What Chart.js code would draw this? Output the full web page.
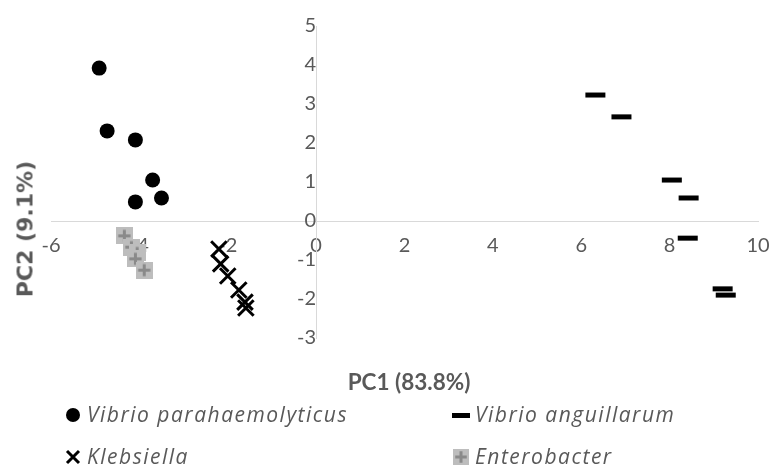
<!DOCTYPE html>
<html>
<head>
<meta charset="utf-8">
<script src="https://cdn.jsdelivr.net/npm/chart.js@4.4.0/dist/chart.umd.min.js"></script>
<style>
  body { margin: 0; background: #fff; }
  #wrap { position: relative; width: 771px; height: 468px; overflow: hidden; font-family: Lato, "Open Sans", sans-serif; color: #595959; }
  #chart { position: absolute; left: 0; top: 0; }
  .title { position: absolute; font-weight: bold; white-space: nowrap; }
  #xTitle { left: 409px; top: 381px; font-size: 22.5px; transform: translate(-50%, -50%); }
  #yTitle { left: 25px; top: 229px; font-family: "DejaVu Sans", sans-serif; font-size: 22px; transform: translate(-50%, -50%) rotate(-90deg); }
  .item { position: absolute; font-family: "Open Sans", sans-serif; font-style: italic; font-size: 21px; letter-spacing: 1.5px; white-space: nowrap; line-height: 1; }
  .item canvas { position: absolute; left: -24px; top: 50%; transform: translateY(-50%); }
</style>
</head>
<body>
<div id="wrap">
  <canvas id="chart" width="771" height="468"></canvas>
  <div id="xTitle" class="title">PC1 (83.8%)</div>
  <div id="yTitle" class="title">PC2 (9.1%)</div>
  <div id="legend"></div>
</div>
<script>
// series names
var seriesNames = ["Vibrio parahaemolyticus", "Vibrio anguillarum", "Klebsiella", "Enterobacter"];

// PC1 / PC2 scores
var vparaX = [-4.91, -4.73, -4.09, -3.70, -3.50, -4.09];
var vparaY = [3.92, 2.31, 2.08, 1.05, 0.59, 0.49];

var vangX = [6.32, 6.91, 8.05, 8.43, 8.41, 9.20, 9.27];
var vangY = [3.23, 2.67, 1.05, 0.59, -0.44, -1.74, -1.90];

var klebX = [-2.20, -2.16, -2.00, -1.75, -1.61, -1.59];
var klebY = [-0.72, -1.10, -1.41, -1.77, -2.08, -2.23];

var enteroX = [-4.34, -4.18, -4.05, -4.09, -3.89];
var enteroY = [-0.38, -0.67, -0.82, -0.97, -1.26];

// axis ranges
var xMin = -6, xMax = 10, xStep = 2;
var yMin = -3, yMax = 5, yStep = 1;

function pts(xs, ys)
{
    var out = [];
    for (var i = 0; i < xs.length; i++) out.push({x: xs[i], y: ys[i]});
    return out;
}

// grey square with a darker plus, used for Enterobacter
function plusBox(size)
{
    var c = document.createElement("canvas");
    c.width = size; c.height = size;
    var g = c.getContext("2d");
    g.fillStyle = "#bdbdbd";
    g.fillRect(0, 0, size, size);
    g.strokeStyle = "#8a8a8a";
    g.lineWidth = 3;
    var m = size / 2, r = size * 0.36;
    g.beginPath();
    g.moveTo(m - r, m); g.lineTo(m + r, m);
    g.moveTo(m, m - r); g.lineTo(m, m + r);
    g.stroke();
    return c;
}

var enteroPoint = plusBox(17);

var tickFont = {family: "Lato", size: 20};

// axes cross at 0, so they should take no room of their own
function noRoom(s)
{
    if (s.isHorizontal()) s.height = 0; else s.width = 0;
    s.paddingTop = 0; s.paddingBottom = 0;
    s.paddingLeft = 0; s.paddingRight = 0;
}

var ctx = document.getElementById("chart").getContext("2d");
var chart = new Chart(ctx, {
    type: 'scatter',
    data: {
        datasets: [{
            label: seriesNames[0],
            data: pts(vparaX, vparaY),
            pointStyle: 'circle',
            pointRadius: 7.5,
            backgroundColor: "#000",
            borderColor: "#000",
            borderWidth: 0
        }, {
            label: seriesNames[1],
            data: pts(vangX, vangY),
            pointStyle: 'line',
            pointRadius: 10,
            borderColor: "#000",
            backgroundColor: "#000",
            borderWidth: 5
        }, {
            label: seriesNames[2],
            data: pts(klebX, klebY),
            pointStyle: 'crossRot',
            pointRadius: 11,
            borderColor: "#000",
            backgroundColor: "#000",
            borderWidth: 3
        }, {
            label: seriesNames[3],
            data: pts(enteroX, enteroY),
            pointStyle: enteroPoint,
            pointRadius: 8,
            borderColor: "#8a8a8a",
            backgroundColor: "#bdbdbd"
        }]
    },
    options: {
        responsive: false,
        animation: false,
        layout: {
            autoPadding: false,
            padding: {left: 51, top: 26, right: 13, bottom: 130}
        },
        plugins: {
            legend: { display: false },
            tooltip: { enabled: false }
        },
        scales: {
            x: {
                type: 'linear',
                min: xMin, max: xMax,
                position: {y: 0},
                afterFit: noRoom,
                grid: { display: false },
                border: { display: true, color: "#d9d9d9", width: 1 },
                ticks: { stepSize: xStep, color: "#595959", padding: 5, font: tickFont }
            },
            y: {
                type: 'linear',
                min: yMin, max: yMax,
                position: {x: 0},
                afterFit: noRoom,
                grid: { display: false },
                border: { display: true, color: "#d9d9d9", width: 1 },
                ticks: { stepSize: yStep, color: "#595959", padding: 22, font: tickFont }
            }
        }
    }
});

// legend, two columns
var legendPos = [[87, 415], [475, 415], [87, 457], [475, 457]];
var legend = document.getElementById("legend");
for (var i = 0; i < seriesNames.length; i++)
{
    var div = document.createElement("div");
    div.className = "item";
    div.style.left = legendPos[i][0] + "px";
    div.style.top = (legendPos[i][1] - 11) + "px";
    var mk = document.createElement("canvas");
    mk.width = 20; mk.height = 20;
    var g = mk.getContext("2d");
    g.fillStyle = "#000"; g.strokeStyle = "#000";
    if (i == 0) { g.beginPath(); g.arc(10, 10, 7, 0, Math.PI * 2); g.fill(); }
    if (i == 1) { g.fillRect(1, 8, 18, 5); }
    if (i == 2) { g.lineWidth = 3; g.beginPath(); g.moveTo(4, 4); g.lineTo(16, 16); g.moveTo(16, 4); g.lineTo(4, 16); g.stroke(); }
    if (i == 3) { g.drawImage(plusBox(16), 2, 2); }
    div.appendChild(mk);
    div.appendChild(document.createTextNode(seriesNames[i]));
    legend.appendChild(div);
}
</script>
</body>
</html>
